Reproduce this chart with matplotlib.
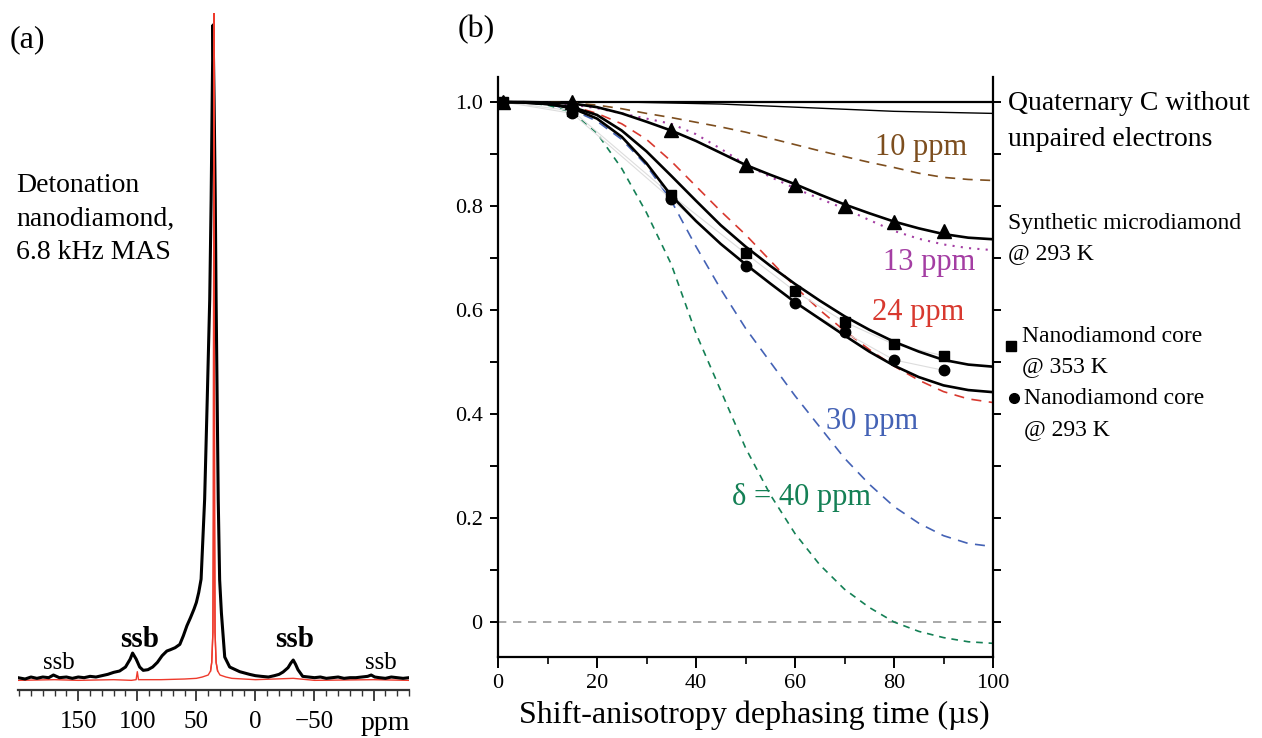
import numpy as np
import matplotlib
matplotlib.use("Agg")
import matplotlib.pyplot as plt
from matplotlib.ticker import MultipleLocator

plt.rcParams["font.family"] = ["Liberation Serif", "DejaVu Serif"]

# =========================
# DATA  (a) 13C spectrum
# =========================
ppm_black = [201, 195, 190, 185, 180, 175, 171, 166, 160, 155, 150, 145, 140, 135, 130,
             125, 120, 115, 110, 106, 104, 101, 98, 95, 91, 87, 83, 79, 75, 72, 68, 64,
             61, 58, 55, 52, 50, 48, 46, 43, 40.8, 38.7, 37.5, 36.6, 35.9, 35.0, 34.0,
             33.3, 32.4, 31.5, 30.3, 28.8, 26, 21.8, 13.3, 5, 0, -5, -11, -16, -20,
             -23.4, -27.6, -30, -32, -34, -36, -40, -45, -50, -55, -60, -65, -70, -75,
             -80, -85, -90, -95, -98, -101, -105, -110, -115, -120, -125, -130]
int_black = [0.002, 0.0, 0.003, 0.001, 0.003, 0.002, 0.006, 0.002, 0.003, 0.001, 0.003,
             0.002, 0.004, 0.003, 0.005, 0.007, 0.010, 0.012, 0.018, 0.030, 0.039, 0.030,
             0.018, 0.013, 0.014, 0.018, 0.025, 0.035, 0.042, 0.044, 0.047, 0.052, 0.065,
             0.080, 0.092, 0.105, 0.115, 0.130, 0.150, 0.270, 0.420, 0.570, 0.720, 0.870,
             0.982, 0.870, 0.720, 0.570, 0.420, 0.270, 0.149, 0.099, 0.033, 0.018, 0.011,
             0.007, 0.005, 0.004, 0.003, 0.005, 0.007, 0.0105, 0.017, 0.024, 0.0285, 0.022,
             0.014, 0.004, 0.003, 0.002, 0.003, 0.001, 0.002, 0.003, 0.001, 0.002, 0.002,
             0.003, 0.004, 0.006, 0.003, 0.002, 0.001, 0.003, 0.002, 0.001, 0.002]

ppm_red = [201, 170, 150, 120, 105, 101, 100, 99, 80, 60, 50, 45, 40, 38, 37, 36, 35.6,
           35.3, 35.1, 34.9, 34.6, 34.2, 33.3, 32, 30, 25, 20, 0, -32, -50, -100, -130]
int_red = [-0.002, -0.001, -0.002, -0.001, -0.002, -0.001, 0.011, -0.001, -0.001, 0.0,
           0.001, 0.003, 0.006, 0.012, 0.025, 0.07, 0.25, 0.70, 1.0, 0.70, 0.25, 0.07,
           0.025, 0.012, 0.006, 0.003, 0.001, -0.001, 0.001, -0.002, -0.001, -0.002]

# =========================
# DATA  (b) dephasing curves
# =========================
t_fit = [0, 5, 10, 15, 20, 25, 30, 35, 40, 45, 50, 55, 60, 65, 70, 75, 80, 85, 90, 95, 100]
sim_10ppm = [1.0, 1.0, 1.0, 0.998, 0.994, 0.987, 0.978, 0.970, 0.961, 0.952, 0.942, 0.930,
             0.918, 0.906, 0.895, 0.884, 0.874, 0.863, 0.855, 0.851, 0.849]
sim_13ppm = [1.0, 1.0, 0.999, 0.995, 0.988, 0.978, 0.968, 0.958, 0.938, 0.910, 0.880, 0.856,
             0.834, 0.814, 0.795, 0.773, 0.752, 0.737, 0.726, 0.719, 0.715]
sim_24ppm = [1.0, 1.0, 0.998, 0.992, 0.978, 0.958, 0.928, 0.886, 0.838, 0.790, 0.745, 0.695,
             0.645, 0.600, 0.560, 0.524, 0.492, 0.465, 0.443, 0.429, 0.422]
sim_30ppm = [1.0, 0.999, 0.996, 0.985, 0.963, 0.928, 0.878, 0.810, 0.722, 0.640, 0.565, 0.500,
             0.435, 0.375, 0.315, 0.265, 0.222, 0.190, 0.166, 0.151, 0.145]
sim_40ppm = [1.0, 0.999, 0.994, 0.980, 0.940, 0.872, 0.787, 0.688, 0.555, 0.445, 0.335, 0.245,
             0.170, 0.110, 0.063, 0.028, 0.0, -0.018, -0.030, -0.038, -0.041]
fit_micro = [1.0, 1.0, 0.999, 0.997, 0.990, 0.978, 0.962, 0.945, 0.925, 0.902, 0.879, 0.860,
             0.842, 0.822, 0.803, 0.786, 0.770, 0.757, 0.746, 0.739, 0.736]
fit_nano353 = [1.0, 0.999, 0.996, 0.990, 0.975, 0.945, 0.905, 0.858, 0.810, 0.763, 0.722, 0.685,
               0.650, 0.618, 0.588, 0.562, 0.539, 0.520, 0.504, 0.495, 0.491]
fit_nano293 = [1.0, 0.999, 0.996, 0.988, 0.968, 0.933, 0.882, 0.820, 0.771, 0.727, 0.688, 0.651,
               0.615, 0.583, 0.551, 0.520, 0.493, 0.471, 0.455, 0.446, 0.442]
quat_c = [1.0, 1.0, 1.0, 1.0, 1.0, 1.0, 0.999, 0.998, 0.997, 0.996, 0.994, 0.992, 0.990,
          0.988, 0.986, 0.984, 0.982, 0.981, 0.980, 0.979, 0.978]

t_pts = [1, 15, 35, 50, 60, 70, 80, 90]
micro_pts = [1.0, 1.0, 0.946, 0.878, 0.840, 0.800, 0.770, 0.752]
nano353_pts = [1.0, 0.983, 0.821, 0.709, 0.636, 0.577, 0.534, 0.512]
nano293_pts = [1.0, 0.978, 0.813, 0.685, 0.613, 0.557, 0.504, 0.484]

C_BROWN = "#7d4e1e"
C_PURPLE = "#a43ea3"
C_RED = "#d8392f"
C_BLUE = "#4462b5"
C_GREEN = "#148055"

W, H = 1262, 738
fig = plt.figure(figsize=(W / 100, H / 100), dpi=100)

# =========================
# (a)
# =========================
axa = fig.add_axes([18 / W, 1 - 690 / H, (409 - 18) / W, (690 - 13) / H])
ppm_red_arr = np.array(ppm_red)
int_red_arr = np.array(int_red)
axa.plot(ppm_red_arr, int_red_arr, color="#ee3a2c", lw=1.0)
axa.plot(ppm_black, int_black, color="black", lw=2.2, solid_joinstyle="round")
# red peak drawn again on top of the black one
top = (ppm_red_arr <= 38) & (ppm_red_arr >= 32)
axa.plot(ppm_red_arr[top], int_red_arr[top], color="#ee3a2c", lw=1.0)
axa.set_xlim(201, -130)
axa.set_ylim(-0.0165, 1.0)
for s in ["left", "right", "top"]:
    axa.spines[s].set_visible(False)
axa.spines["bottom"].set_linewidth(1.6)
axa.spines["bottom"].set_color("#333333")
axa.set_yticks([])
axa.set_xticks([150, 100, 50, 0, -50, -100])
axa.set_xticklabels(["150", "100", "50", "0", "\u221250", ""])
axa.xaxis.set_minor_locator(MultipleLocator(10))
axa.tick_params(axis="x", which="major", direction="out", length=8, width=1.3,
                labelsize=18, pad=7, color="#333333")
axa.tick_params(axis="x", which="minor", direction="out", length=4, width=1.0,
                color="#333333")
axa.annotate("ppm", xy=(-110, -0.0165), xycoords="data", xytext=(0, -15),
             textcoords="offset points", ha="center", va="top", fontsize=20)

axa.text(98, 0.059, "ssb", fontsize=21, fontweight="bold", ha="center", va="center")
axa.text(-33, 0.059, "ssb", fontsize=21, fontweight="bold", ha="center", va="center")
axa.text(166, 0.024, "ssb", fontsize=18, ha="center", va="center")
axa.text(-106, 0.024, "ssb", fontsize=18, ha="center", va="center")

fig.text(10 / W, 1 - 40 / H, "(a)", fontsize=23, ha="left", va="center")
fig.text(16 / W, 1 - 186 / H, "Detonation", fontsize=20, ha="left", va="center")
fig.text(16 / W, 1 - 219 / H, "nanodiamond,", fontsize=20, ha="left", va="center")
fig.text(16 / W, 1 - 252 / H, "6.8 kHz MAS", fontsize=20, ha="left", va="center")

# =========================
# (b)
# =========================
axb = fig.add_axes([498 / W, 1 - 657 / H, (993 - 498) / W, (657 - 77) / H])
axb.set_xlim(0, 100)
axb.set_ylim(-0.0673, 1.048)

axb.axhline(0, color="#999999", lw=1.2, ls=(0, (5, 4)))
axb.axhline(1.0, color="black", lw=1.6)
axb.plot(t_fit, quat_c, color="black", lw=1.0)

axb.plot(t_fit, sim_10ppm, color=C_BROWN, lw=1.2, ls=(0, (6, 4.5)))
axb.plot(t_fit, sim_13ppm, color=C_PURPLE, lw=1.5, ls=(0, (1, 3)))
axb.plot(t_fit, sim_24ppm, color=C_RED, lw=1.2, ls=(0, (6, 4.5)))
axb.plot(t_fit, sim_30ppm, color=C_BLUE, lw=1.2, ls=(0, (6, 4.5)))
axb.plot(t_fit, sim_40ppm, color=C_GREEN, lw=1.2, ls=(0, (4, 3.5)))

# faint lines joining the measured points
axb.plot(t_pts, nano353_pts, color="#dddddd", lw=0.8)
axb.plot(t_pts, nano293_pts, color="#dddddd", lw=0.8)

axb.plot(t_fit, fit_micro, color="black", lw=1.9)
axb.plot(t_fit, fit_nano353, color="black", lw=1.9)
axb.plot(t_fit, fit_nano293, color="black", lw=1.9)

axb.plot(t_pts, micro_pts, ls="none", marker="^", ms=9.5, color="black")
axb.plot(t_pts, nano353_pts, ls="none", marker="s", ms=7, color="black")
axb.plot(t_pts, nano293_pts, ls="none", marker="o", ms=7.5, color="black")

axb.spines["top"].set_visible(False)
for s in ["left", "right", "bottom"]:
    axb.spines[s].set_linewidth(1.6)
axb.set_xticks([0, 20, 40, 60, 80, 100])
axb.xaxis.set_minor_locator(MultipleLocator(10))
axb.set_yticks([0, 0.2, 0.4, 0.6, 0.8, 1.0])
axb.set_yticklabels(["0", "0.2", "0.4", "0.6", "0.8", "1.0"])
axb.yaxis.set_minor_locator(MultipleLocator(0.1))
axb.tick_params(axis="x", which="major", direction="out", length=8, width=1.4,
                labelsize=16, pad=4)
axb.tick_params(axis="x", which="minor", direction="out", length=5, width=1.2)
axb.tick_params(axis="y", which="both", direction="out", length=6, width=1.4,
                labelsize=16, right=True, pad=5)
axb.set_xlabel("Shift-anisotropy dephasing time (\u00b5s)", fontsize=23, labelpad=2)
axb.xaxis.set_label_coords(0.518, -0.075)

axb.text(76.2, 0.913, "10 ppm", color=C_BROWN, fontsize=22, ha="left", va="center")
axb.text(77.8, 0.692, "13 ppm", color=C_PURPLE, fontsize=22, ha="left", va="center")
axb.text(75.6, 0.596, "24 ppm", color=C_RED, fontsize=22, ha="left", va="center")
axb.text(66.3, 0.385, "30 ppm", color=C_BLUE, fontsize=22, ha="left", va="center")
axb.text(47.3, 0.240, "\u03b4 = 40 ppm", color=C_GREEN, fontsize=22, ha="left", va="center")

fig.text(458 / W, 1 - 30 / H, "(b)", fontsize=23, ha="left", va="center")
fig.text(1008 / W, 1 - 104 / H, "Quaternary C without", fontsize=20, ha="left", va="center")
fig.text(1008 / W, 1 - 139 / H, "unpaired electrons", fontsize=20, ha="left", va="center")
fig.text(1008 / W, 1 - 224 / H, "Synthetic microdiamond", fontsize=17, ha="left", va="center")
fig.text(1008 / W, 1 - 254 / H, "@ 293 K", fontsize=17, ha="left", va="center")
fig.text(1022 / W, 1 - 337 / H, "Nanodiamond core", fontsize=17, ha="left", va="center")
fig.text(1022 / W, 1 - 367 / H, "@ 353 K", fontsize=17, ha="left", va="center")
fig.text(1024 / W, 1 - 399 / H, "Nanodiamond core", fontsize=17, ha="left", va="center")
fig.text(1024 / W, 1 - 430 / H, "@ 293 K", fontsize=17, ha="left", va="center")
fig.lines.append(plt.Line2D([1011 / W], [1 - 346 / H], transform=fig.transFigure,
                            marker="s", ms=6.5, color="black", ls="none"))
fig.lines.append(plt.Line2D([1014 / W], [1 - 398 / H], transform=fig.transFigure,
                            marker="o", ms=7, color="black", ls="none"))

fig.savefig("out.png", dpi=100)
